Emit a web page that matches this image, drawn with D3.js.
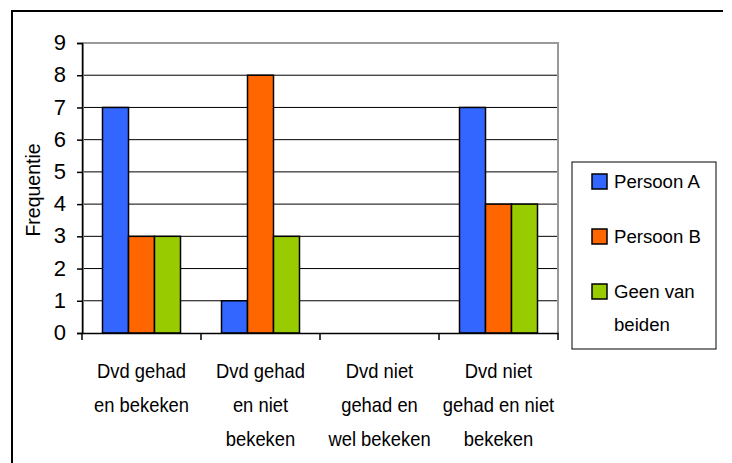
<!DOCTYPE html>
<html><head><meta charset="utf-8">
<script src="https://cdn.jsdelivr.net/npm/d3@7"></script>
<style>body{margin:0;background:#fff}svg{display:block}text{font-family:"Liberation Sans",Arial,sans-serif;fill:#000}</style>
</head><body>
<svg id="c" width="732" height="463"></svg>
<script>
const categories = [["Dvd gehad","en bekeken"],["Dvd gehad","en niet","bekeken"],["Dvd niet","gehad en","wel bekeken"],["Dvd niet","gehad en niet","bekeken"]];
const seriesNames = ["Persoon A","Persoon B","Geen van beiden"];
const persoonA = [7,1,0,7];
const persoonB = [3,8,0,4];
const geenVanBeiden = [3,3,0,4];
const seriesValues = [persoonA, persoonB, geenVanBeiden];
const colors = ["#3366ff","#ff6600","#99cc00"];
const yTicks = [0,1,2,3,4,5,6,7,8,9];
const legendLines = [["Persoon A"],["Persoon B"],["Geen van","beiden"]];

const svg = d3.select("#c");
svg.append("line").attr("x1",12).attr("x2",723).attr("y1",11).attr("y2",11).attr("stroke","#000").attr("stroke-width",2);
svg.append("line").attr("x1",12).attr("x2",12).attr("y1",10).attr("y2",463).attr("stroke","#000").attr("stroke-width",2);

const L=82,R=558,T=43,B=333;
const x = d3.scaleBand().domain(d3.range(categories.length)).range([L,R]);
const y = d3.scaleLinear().domain([0,9]).range([B,T]);

const g = svg.append("g");
g.selectAll(".grid").data(yTicks.filter(t=>t>0&&t<9)).join("line")
 .attr("x1",L).attr("x2",R).attr("y1",d=>y(d)).attr("y2",d=>y(d)).attr("stroke","#000").attr("stroke-width",1);
g.append("path").attr("d",`M${L+1},${B}V${y(9)}H${R}V${B}`).attr("fill","none").attr("stroke","#999").attr("stroke-width",2);

const bw = 26, inner = d3.scaleBand().domain(d3.range(3)).range([0,bw*3]);
seriesValues.forEach((vals,si)=>{
  g.selectAll(".b"+si).data(vals.map((v,i)=>({v,i}))).join("rect")
   .attr("x",d=>x(d.i)+(x.bandwidth()-bw*3)/2+inner(si))
   .attr("y",d=>y(d.v)).attr("width",bw).attr("height",d=>B-y(d.v))
   .attr("fill",colors[si]).attr("stroke","#000").attr("stroke-width",1.5)
   .style("display",d=>d.v>0?null:"none");
});

const ya = svg.append("g").attr("transform",`translate(${L},0)`)
 .call(d3.axisLeft(y).tickValues(yTicks).tickSize(5).tickPadding(11).tickFormat(d3.format("d")));
ya.attr("font-size",null).attr("font-family",null);
ya.select(".domain").attr("stroke","#000").attr("stroke-width",1.5);
ya.selectAll("line").attr("stroke","#000").attr("stroke-width",1.5);
ya.selectAll("text").style("font-size","22px").attr("dy","0.3em").attr("fill","#000");

const xa = svg.append("g").attr("transform",`translate(0,${B})`)
 .call(d3.axisBottom(x).tickSize(0).tickFormat(""));
xa.select(".domain").attr("stroke","#000").attr("stroke-width",1.5);
xa.selectAll(".tick").remove();
const bounds = d3.range(categories.length+1).map(i=>L+i*x.step());
xa.selectAll(".xt").data(bounds).join("line").attr("x1",d=>d).attr("x2",d=>d).attr("y1",0).attr("y2",7).attr("stroke","#000").attr("stroke-width",1.5);

categories.forEach((lines,i)=>{
  lines.forEach((ln,k)=>{
    svg.append("text").attr("text-anchor","middle").style("font-size","20px")
      .attr("transform",`translate(${x(i)+x.bandwidth()/2},${378+k*34}) scale(0.92,1)`).text(ln);
  });
});

svg.append("text").attr("transform","translate(40,190) rotate(-90)").attr("text-anchor","middle").style("font-size","19.5px").text("Frequentie");

svg.append("rect").attr("x",572).attr("y",162).attr("width",144).attr("height",187).attr("fill","#fff").attr("stroke","#000").attr("stroke-width",1);
legendLines.forEach((lines,i)=>{
  const cy = 181 + i*55;
  svg.append("rect").attr("x",592).attr("y",cy-7).attr("width",15).attr("height",15).attr("fill",colors[i]).attr("stroke","#000").attr("stroke-width",1.5);
  lines.forEach((ln,k)=>{
    svg.append("text").style("font-size","19px")
      .attr("transform",`translate(614,${cy+7+k*33}) scale(0.98,1)`).text(ln);
  });
});
</script>
</body></html>
